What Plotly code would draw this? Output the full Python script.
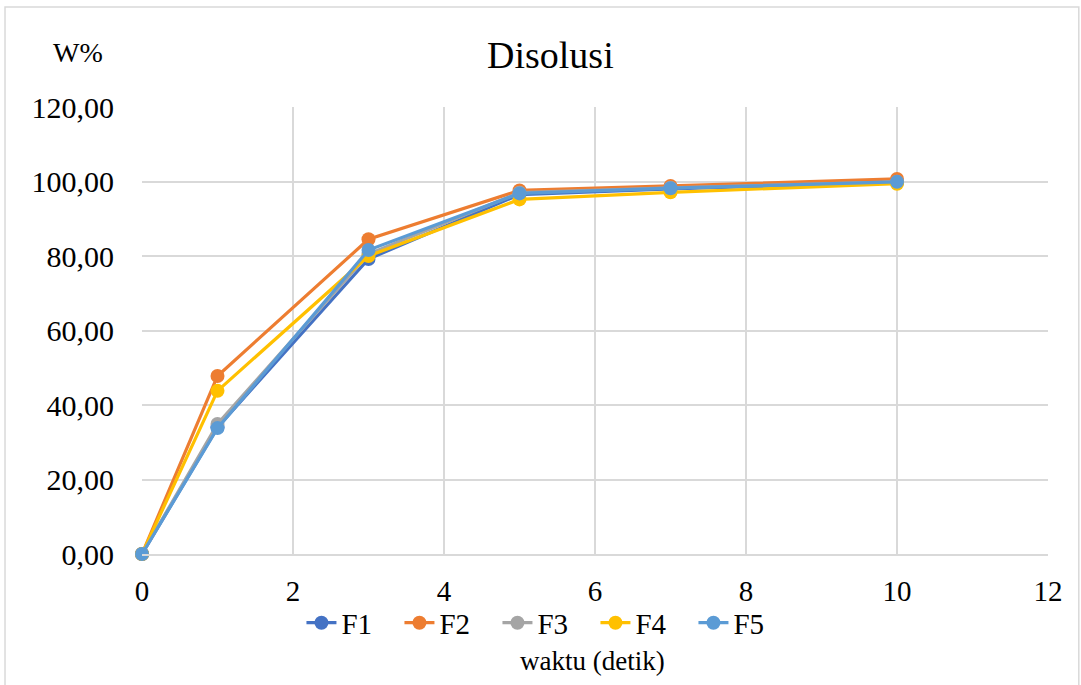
import plotly.graph_objects as go

waktu = [0, 1, 3, 5, 7, 10]
F1 = [0.0, 34.0, 79.2, 96.5, 98.0, 99.8]
F2 = [0.0, 47.8, 84.5, 97.6, 98.8, 100.7]
F3 = [0.0, 34.9, 80.5, 97.0, 98.3, 99.9]
F4 = [0.0, 43.8, 80.0, 95.2, 97.1, 99.4]
F5 = [0.0, 33.8, 81.6, 96.8, 98.2, 99.9]

series = [("F1", F1, "#4472C4"), ("F2", F2, "#ED7D31"), ("F3", F3, "#A5A5A5"),
          ("F4", F4, "#FFC000"), ("F5", F5, "#5B9BD5")]

font = "Liberation Serif"

fig = go.Figure()
for name, vals, color in series:
    fig.add_trace(go.Scatter(
        x=waktu, y=vals, name=name, mode="lines+markers",
        line=dict(color=color, width=3.2),
        marker=dict(color=color, size=14),
        cliponaxis=False,
    ))

fig.update_layout(
    width=1081, height=685,
    margin=dict(l=142, r=33, t=107, b=131),
    paper_bgcolor="white", plot_bgcolor="white",
    separators=",.",
    font=dict(family=font, color="black", size=28),
    showlegend=True,
    legend=dict(orientation="h", x=0.176, xanchor="left", y=-0.097, yanchor="top",
                font=dict(size=29, family=font, color="black"), tracegroupgap=0,
                entrywidth=53, entrywidthmode="pixels",
                bgcolor="rgba(0,0,0,0)"),
    xaxis=dict(range=[0, 12], dtick=2, showgrid=True, gridcolor="#D9D9D9", gridwidth=1.5,
               zeroline=False, showline=True, linecolor="#D9D9D9", linewidth=1.5,
               ticks="", ticklabelstandoff=10,
               tickfont=dict(size=29, family=font, color="black")),
    yaxis=dict(range=[0, 120], dtick=20, tickformat=".2f", showgrid=True,
               gridcolor="#D9D9D9", gridwidth=1.5, zeroline=False, showline=False,
               ticks="", ticklabelstandoff=27,
               tickfont=dict(size=30, family=font, color="black")),
    shapes=[dict(type="rect", xref="paper", yref="paper",
                 x0=-0.1512, x1=1.034, y0=-0.31, y1=1.2237,
                 line=dict(color="#D9D9D9", width=1.5), layer="below")],
    annotations=[
        dict(text="Disolusi", xref="paper", yref="paper", x=0.451, y=1.117,
             xanchor="center", yanchor="middle", showarrow=False,
             font=dict(size=38, family=font, color="black")),
        dict(text="W%", xref="paper", yref="paper", x=-0.071, y=1.123,
             xanchor="center", yanchor="middle", showarrow=False,
             font=dict(size=28, family=font, color="black")),
        dict(text="waktu (detik)", xref="paper", yref="paper", x=0.497, y=-0.24,
             xanchor="center", yanchor="middle", showarrow=False,
             font=dict(size=27, family=font, color="black")),
    ],
)

fig.write_html("out.html")
